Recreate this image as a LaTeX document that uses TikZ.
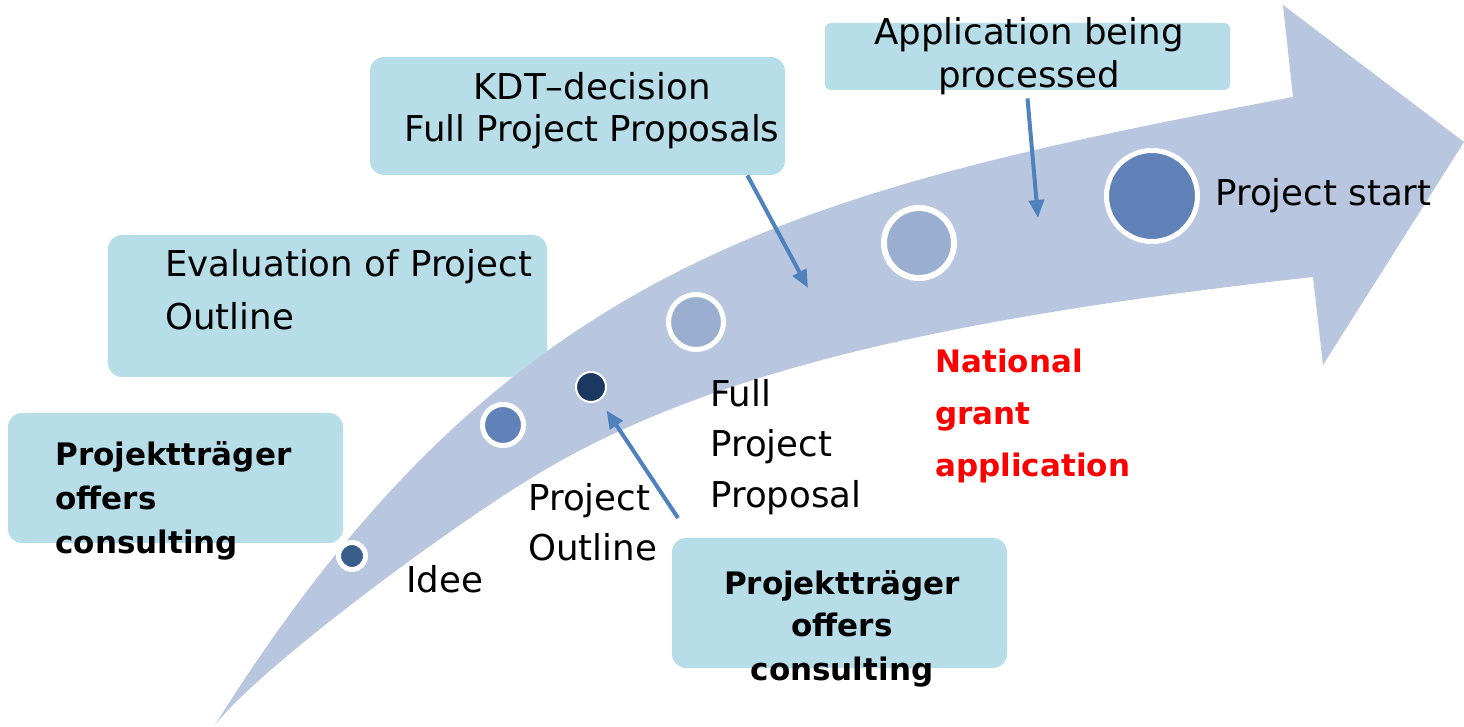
\documentclass[tikz,border=0pt]{standalone}
\usepackage{fontspec}
\setmainfont{DejaVu Sans}
\usepackage{xcolor}
\usepackage{tikz}
\usetikzlibrary{arrows.meta, positioning, calc}

\definecolor{bandblue}{RGB}{185,198,224}
\definecolor{panelcyan}{RGB}{183,221,232}
\definecolor{pointerblue}{RGB}{79,129,189}
\definecolor{dotdark}{RGB}{58,94,140}
\definecolor{dotnavy}{RGB}{27,56,98}
\definecolor{dotmid}{RGB}{96,130,184}
\definecolor{dotpale}{RGB}{154,175,208}

\begin{document}
\begin{tikzpicture}[x=0.5pt, y=-0.5pt,
    panel/.style={fill=panelcyan, rounded corners=7pt, inner sep=0pt},
    milestone/.style={circle, draw=white, inner sep=0pt},
    lbl/.style={font=\fontsize{17.8}{#1}\selectfont, inner sep=0pt},
    lblbold/.style={font=\bfseries\fontsize{15.5}{#1}\selectfont, inner sep=0pt},
    pointer/.style={draw=pointerblue, line width=2pt, -{Triangle[length=9pt,width=7.5pt]}}]
  \useasboundingbox (0,0) rectangle (1464,727);

  % Boxes
  \node[panel, minimum width=167.5pt, minimum height=65pt] (ptleft) at (175.5,478) {};
  \node[panel, minimum width=219.5pt, minimum height=71pt] (evalbox) at (327.5,306) {};
  \node[panel, minimum width=207.5pt, minimum height=59pt] (kdtbox) at (577.5,116) {};
  \node[panel, minimum width=202.5pt, minimum height=33.5pt, rounded corners=3pt] (appbox) at (1027.5,56.5) {};
  \node[panel, minimum width=167.5pt, minimum height=65pt] (ptbottom) at (839.5,603) {};

  % Bent arrow
  \fill[bandblue] (215,725) .. controls (505,262) and (793,192) .. (1293,97)
    -- (1283,5) -- (1464,142) -- (1323,365) -- (1313,277)
    .. controls (963,316) and (708,368) .. (528,480)
    .. controls (428,542) and (255,673) .. (215,725) -- cycle;

  % Milestones
  \node[milestone, fill=dotdark, line width=2.5pt, minimum size=13.5pt] (m1) at (352,556) {};
  \node[milestone, fill=dotmid, line width=2.5pt, minimum size=20.5pt] (m2) at (503,425) {};
  \node[milestone, fill=dotnavy, line width=1pt, minimum size=15pt] (m3) at (591,387) {};
  \node[milestone, fill=dotpale, line width=2.5pt, minimum size=27.5pt] (m4) at (696,322) {};
  \node[milestone, fill=dotpale, line width=3pt, minimum size=35pt] (m5) at (919,243) {};
  \node[milestone, fill=dotmid, line width=2.5pt, minimum size=45.5pt] (m6) at (1152,196) {};

  % Texts (base = last line)
  \node[lblbold=22pt, anchor=base west, align=left] (ptlefttxt) at (55,553) {Projektträger\\offers\\consulting};
  \node[lbl=26.5pt, anchor=base west, align=left] (evaltxt) at (165,330) {Evaluation of Project\\Outline};
  \node[lbl=21pt, anchor=base, align=center] (kdttxt) at (592,142) {KDT–decision\\Full Project Proposals};
  \node[lbl=21.5pt, anchor=base, align=center] (apptxt) at (1029,88) {Application being\\processed};
  \node[lbl=25.5pt, right=7.5pt of m6] (starttxt) {Project start};
  \node[lbl=25.5pt, anchor=base west] (ideetxt) at (406,593) {Idee};
  \node[lbl=25pt, anchor=base west, align=left] (outltxt) at (528,560) {Project\\Outline};
  \node[lbl=25.5pt, anchor=base west, align=left] (fulltxt) at (710,508) {Full\\Project\\Proposal};
  \node[lblbold=26pt, text=red, anchor=base west, align=left] (granttxt) at (935,477) {National\\grant\\application};
  \node[lblbold=21.5pt, anchor=base, align=center] (ptbottomtxt) at (842,680) {Projektträger\\offers\\consulting};

  % Pointers
  \coordinate (kdthit) at (808,288);
  \coordinate (apphit) at (1038,218);
  \coordinate (outlfoot) at (678,518);
  \draw[pointer] ($(kdtbox.south east)+(-38,0)$) -- (kdthit);
  \draw[pointer] ([yshift=-4pt]appbox.south) -- (apphit);
  \draw[pointer, shorten >=6pt] (outlfoot) -- (m3);
\end{tikzpicture}
\end{document}
